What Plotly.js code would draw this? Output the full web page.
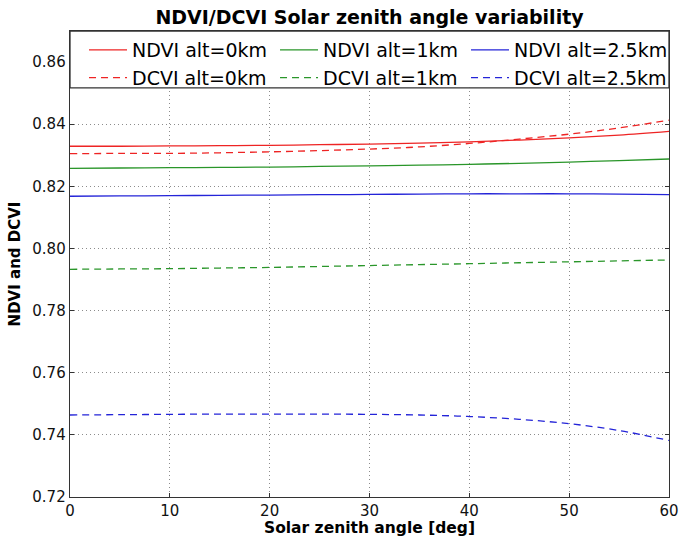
<!DOCTYPE html>
<html>
<head>
<meta charset="utf-8">
<script src="https://cdn.plot.ly/plotly-3.0.1.min.js"></script>
<style>
  html, body { margin: 0; padding: 0; background: #ffffff; }
  #chart { width: 682px; height: 537px; }
  /* let the last legend column show its full label */
  #chart .legend .scrollbox { clip-path: none !important; }
</style>
</head>
<body>
<div id="chart"></div>
<script>
// Solar zenith angle samples (deg)
const zenith = [0, 5, 10, 15, 20, 25, 30, 35, 40, 45, 50, 55, 60];

// NDVI at three altitudes
const ndvi0km  = [0.8329, 0.8329, 0.8330, 0.8331, 0.8332, 0.8334, 0.8336, 0.8339, 0.8343, 0.8349, 0.8356, 0.8365, 0.8377];
const ndvi1km  = [0.8258, 0.8259, 0.8260, 0.8261, 0.8262, 0.8264, 0.8266, 0.8268, 0.8271, 0.8274, 0.8278, 0.8283, 0.8288];
const ndvi25km = [0.8168, 0.8169, 0.8170, 0.8171, 0.8172, 0.8173, 0.8174, 0.8175, 0.8176, 0.8176, 0.8176, 0.8175, 0.8173];

// DCVI at three altitudes
const dcvi0km  = [0.8305, 0.8306, 0.8306, 0.8308, 0.8311, 0.8315, 0.8320, 0.8327, 0.8338, 0.8352, 0.8368, 0.8388, 0.8413];
const dcvi1km  = [0.7933, 0.7934, 0.7935, 0.7937, 0.7939, 0.7942, 0.7945, 0.7948, 0.7951, 0.7954, 0.7957, 0.7960, 0.7963];
const dcvi25km = [0.7464, 0.7465, 0.7466, 0.7467, 0.7467, 0.7467, 0.7466, 0.7464, 0.7459, 0.7450, 0.7436, 0.7414, 0.7382];

const seriesNames = ['NDVI alt=0km', 'NDVI alt=1km', 'NDVI alt=2.5km',
                     'DCVI alt=0km', 'DCVI alt=1km', 'DCVI alt=2.5km'];
const seriesValues = [ndvi0km, ndvi1km, ndvi25km, dcvi0km, dcvi1km, dcvi25km];

const xTicks = [0, 10, 20, 30, 40, 50, 60];
const yTicks = [0.72, 0.74, 0.76, 0.78, 0.80, 0.82, 0.84, 0.86];

const colors = ['#ee2424', '#2a962a', '#2424d8'];
const FONT = 'DejaVu Sans, sans-serif';

const traces = seriesValues.map((vals, i) => ({
  x: zenith,
  y: vals,
  type: 'scatter',
  mode: 'lines',
  name: seriesNames[i],
  line: {
    color: colors[i % 3],
    width: 1.3,
    dash: i < 3 ? 'solid' : '7px,5px',
    shape: 'spline'
  }
}));

const axisCommon = {
  showline: true,
  mirror: 'allticks',
  linecolor: '#333333',
  linewidth: 1.3,
  ticks: 'inside',
  ticklen: 4,
  tickcolor: '#333333',
  showgrid: true,
  gridcolor: '#8c8c8c',
  griddash: '1px,3px',
  gridwidth: 1,
  zeroline: false,
  tickfont: { family: FONT, size: 15, color: '#111111' }
};

const layout = {
  width: 682,
  height: 537,
  margin: { l: 70, r: 13, t: 31, b: 40 },
  paper_bgcolor: '#ffffff',
  plot_bgcolor: '#ffffff',
  title: {
    text: '<b>NDVI/DCVI Solar zenith angle variability</b>',
    font: { family: FONT, size: 19, color: '#000000' },
    xref: 'paper', x: 0.5, xanchor: 'center',
    y: 0.968, yanchor: 'middle'
  },
  xaxis: Object.assign({}, axisCommon, {
    range: [0, 60],
    tickvals: xTicks,
    ticktext: xTicks.map(String),
    title: { text: '<b>Solar zenith angle [deg]</b>', font: { family: FONT, size: 15.5, color: '#000' }, standoff: 0 }
  }),
  yaxis: Object.assign({}, axisCommon, {
    range: [0.72, 0.87],
    tickvals: yTicks,
    ticktext: yTicks.map(v => v.toFixed(2)),
    title: { text: '<b>NDVI and DCVI</b>', font: { family: FONT, size: 15, color: '#000' }, standoff: 8 }
  }),
  shapes: [{
    type: 'rect', xref: 'paper', yref: 'paper',
    x0: 0, x1: 1, y0: 0.878, y1: 1,
    fillcolor: '#ffffff',
    line: { color: '#333333', width: 1.3 },
    layer: 'above'
  }],
  legend: {
    orientation: 'h',
    x: 0.0234, xanchor: 'left',
    y: 1.0, yanchor: 'top',
    bgcolor: 'rgba(0,0,0,0)',
    borderwidth: 0,
    entrywidth: 138,
    entrywidthmode: 'pixels',
    itemwidth: 38,
    font: { family: FONT, size: 19, color: '#000' },
    tracegroupgap: 0
  },
  showlegend: true
};

Plotly.newPlot('chart', traces, layout, { displayModeBar: false, staticPlot: true });
</script>
</body>
</html>
